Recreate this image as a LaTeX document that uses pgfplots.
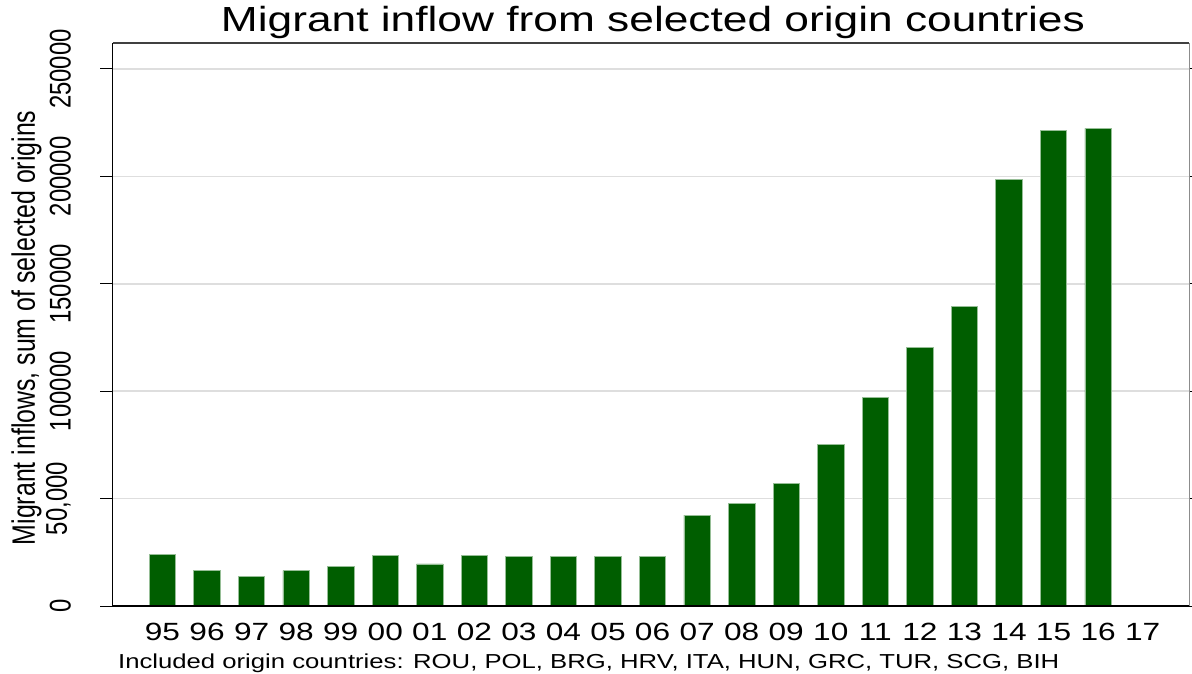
\documentclass[border=0pt]{standalone}
\usepackage{graphicx}
\usepackage{fontspec}
\setmainfont{Liberation Sans}[FakeStretch=1.27]
\newfontfamily\plainfont{Liberation Sans}
\usepackage{pgfplots}
\usepackage{pgfplotstable}
\pgfplotsset{compat=1.18}
\definecolor{bargreen}{RGB}{0,94,0}
\definecolor{baredge}{RGB}{150,190,150}
\definecolor{gridgray}{RGB}{222,222,222}

% yearly inflow, sum of selected origins (95 ... 16)
\pgfplotstableread{
idx inflow
0  24100
1  16500
2  13700
3  16500
4  18300
5  23700
6  19600
7  23500
8  23100
9  23100
10 22900
11 22900
12 42300
13 47900
14 56900
15 75400
16 97100
17 120200
18 139300
19 198700
20 221300
21 222400
}\inflows

\begin{document}
\begin{tikzpicture}
\begin{axis}[
    at={(112.5bp,-606bp)}, anchor=south west,
    scale only axis, width=1076.5bp, height=563bp,
    clip=false,
    xmin=-1.122, xmax=23.04, ymin=0, ymax=262100,
    ybar, bar width=0.593,
    axis line style={draw=none},
    xtick={0,...,22},
    xticklabels={95,96,97,98,99,00,01,02,03,04,05,06,07,08,09,10,11,12,13,14,15,16,17},
    xtick style={draw=none},
    ytick={0,50000,100000,150000,200000,250000},
    scaled y ticks=false,
    yticklabels={\scalebox{1}[1.25]{0},\scalebox{1}[1.25]{50,000},\scalebox{1}[1.25]{100000},\scalebox{1}[1.25]{150000},\scalebox{1}[1.25]{200000},\scalebox{1}[1.25]{250000}},
    ytick style={black, line width=1bp},
    tick align=outside, major tick length=12bp,
    ymajorgrids, grid style={gridgray, line width=1.5bp},
    xticklabel style={font=\fontsize{25}{25}\selectfont, anchor=north, inner sep=0pt},
    xticklabel shift=5bp,
    yticklabel style={font=\plainfont\fontsize{24}{24}\selectfont, rotate=90, anchor=south, inner sep=0pt},
    yticklabel shift=29.5bp,
    title={Migrant inflow from selected origin countries},
    title style={font=\fontsize{35}{35}\selectfont, anchor=base, at={(0.502,1)}, yshift=6bp, inner sep=0pt},
    ylabel={\scalebox{1}[1.3]{Migrant inflows, sum of selected origins}},
    ylabel style={font=\plainfont\fontsize{25}{25}\selectfont, at={(axis description cs:-0.0799,0.494)}, anchor=center},
]
\addplot[fill=bargreen, draw=baredge, line width=0.7bp] table[x=idx, y=inflow] {\inflows};
% plot region frame
\draw[black!75, line width=1.3bp] (rel axis cs:0,1) -- (rel axis cs:1,1);
\draw[black!45, line width=1bp] (rel axis cs:1,1) -- (rel axis cs:1,0);
\draw[black, line width=1.8bp] (rel axis cs:0,1) -- (rel axis cs:0,0) -- (rel axis cs:1,0);
\node[anchor=base west, font=\fontsize{20.3}{20.3}\selectfont, inner sep=0pt]
    at (rel axis cs:0.0051,-0.1101) {Included origin countries: ROU, POL, BRG, HRV, ITA, HUN, GRC, TUR, SCG, BIH};
\end{axis}
\pgfresetboundingbox
\path[use as bounding box] (0,0) rectangle (1192bp,-674bp);
\end{tikzpicture}
\end{document}
